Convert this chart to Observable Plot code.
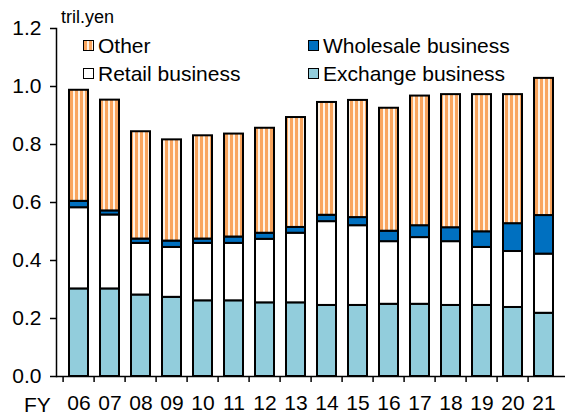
<!DOCTYPE html>
<html>
<head>
<meta charset="utf-8">
<script src="https://cdn.jsdelivr.net/npm/d3@7"></script>
<script src="https://cdn.jsdelivr.net/npm/@observablehq/plot@0.6"></script>
<style>
  body { margin: 0; background: #fff; }
  #chart { position: relative; width: 565px; height: 416px; font-family: Arial, "Liberation Sans", sans-serif; color: #000; }
  #chart svg { display: block; }
  .note { position: absolute; font-size: 18px; line-height: 18px; white-space: nowrap; }
  .lg { position: absolute; display: flex; align-items: center; font-size: 21px; line-height: 21px; white-space: nowrap; }
  .sw { width: 9px; height: 9px; border: 1.5px solid #000; margin-right: 4px; }
</style>
</head>
<body>
<div id="chart"></div>
<script>
// Fiscal years (FY2006–FY2021)
const years = ["06","07","08","09","10","11","12","13","14","15","16","17","18","19","20","21"];

// Segment values, trillion yen
const exchange  = [0.302,0.302,0.281,0.273,0.261,0.261,0.254,0.254,0.245,0.245,0.249,0.249,0.245,0.245,0.238,0.218];
const retail    = [0.280,0.255,0.178,0.172,0.198,0.198,0.219,0.240,0.289,0.275,0.216,0.230,0.220,0.200,0.193,0.204];
const wholesale = [0.022,0.014,0.015,0.022,0.015,0.022,0.021,0.020,0.022,0.028,0.036,0.041,0.048,0.054,0.096,0.133];
const other     = [0.383,0.382,0.370,0.349,0.356,0.355,0.362,0.379,0.389,0.404,0.424,0.447,0.459,0.473,0.445,0.473];

// Stack order, bottom to top
const seriesNames = ["Exchange business", "Retail business", "Wholesale business", "Other"];
const seriesFills = ["#92cddc", "#ffffff", "#0070c0", "url(#other-stripes)"];
const yTicks = [0, 0.2, 0.4, 0.6, 0.8, 1.0, 1.2];

const seriesValues = [exchange, retail, wholesale, other];
const rows = [];
seriesNames.forEach((name, s) => {
  years.forEach((year, i) => rows.push({year, series: name, value: seriesValues[s][i]}));
});

const W = 565, H = 416, mLeft = 56, mRight = 0, mTop = 28, mBottom = 40;
const step = (W - mLeft - mRight) / years.length;

const plot = Plot.plot({
  width: W,
  height: H,
  marginLeft: mLeft,
  marginRight: mRight,
  marginTop: mTop,
  marginBottom: mBottom,
  style: {fontFamily: "Arial, 'Liberation Sans', sans-serif", fontSize: "21px", color: "#000", background: "#fff"},
  x: {domain: years, paddingInner: 0.4, paddingOuter: 0.2},
  y: {domain: [0, 1.2]},
  color: {domain: seriesNames, range: seriesFills},
  marks: [
    Plot.barY(rows, {
      x: "year", y: "value", fill: "series",
      order: seriesNames,
      stroke: "#000", strokeWidth: 2
    }),
    Plot.frame({anchor: "left", stroke: "#000", strokeWidth: 1.5}),
    Plot.ruleY([0], {stroke: "#000", strokeWidth: 1.5}),
    Plot.axisY({ticks: yTicks, tickFormat: d3.format(".1f"), tickSize: 6, tickPadding: 9, label: null, strokeWidth: 1.5}),
    Plot.axisX({tickSize: 0, tickPadding: 19, label: null}),
    Plot.axisX({tickSize: 6, tickFormat: () => "", dx: -step / 2, label: null, strokeWidth: 1.5})
  ]
});

// Vertical orange/white stripes used by the "Other" segments
const svg = d3.select(plot);
const pat = svg.insert("defs", ":first-child").append("pattern")
  .attr("id", "other-stripes").attr("patternUnits", "userSpaceOnUse")
  .attr("width", 5).attr("height", 10);
pat.append("rect").attr("width", 5).attr("height", 10).attr("fill", "#fff3e6");
pat.append("rect").attr("x", 0).attr("width", 3).attr("height", 10).attr("fill", "#f9a55e");

const chart = document.getElementById("chart");
chart.appendChild(plot);

function addText(cls, text, left, top) {
  const el = document.createElement("div");
  el.className = cls;
  el.textContent = text;
  el.style.left = left + "px";
  el.style.top = top + "px";
  chart.appendChild(el);
  return el;
}
addText("note", "tril.yen", 61, 8);
const fy = addText("note", "FY", 24, 394);
fy.style.fontSize = "21px";
fy.style.lineHeight = "21px";

// Legend, two columns inside the plot area
const legendItems = [
  {name: "Other", swatch: "repeating-linear-gradient(90deg,#f9a55e 0 3px,#fff3e6 3px 5px)", left: 83, top: 35},
  {name: "Wholesale business", swatch: "#0070c0", left: 308, top: 35},
  {name: "Retail business", swatch: "#ffffff", left: 83, top: 63},
  {name: "Exchange business", swatch: "#92cddc", left: 308, top: 63}
];
legendItems.forEach(item => {
  const row = document.createElement("div");
  row.className = "lg";
  row.style.left = item.left + "px";
  row.style.top = item.top + "px";
  const sw = document.createElement("span");
  sw.className = "sw";
  sw.style.background = item.swatch;
  const label = document.createElement("span");
  label.textContent = item.name;
  row.appendChild(sw);
  row.appendChild(label);
  chart.appendChild(row);
});
</script>
</body>
</html>
